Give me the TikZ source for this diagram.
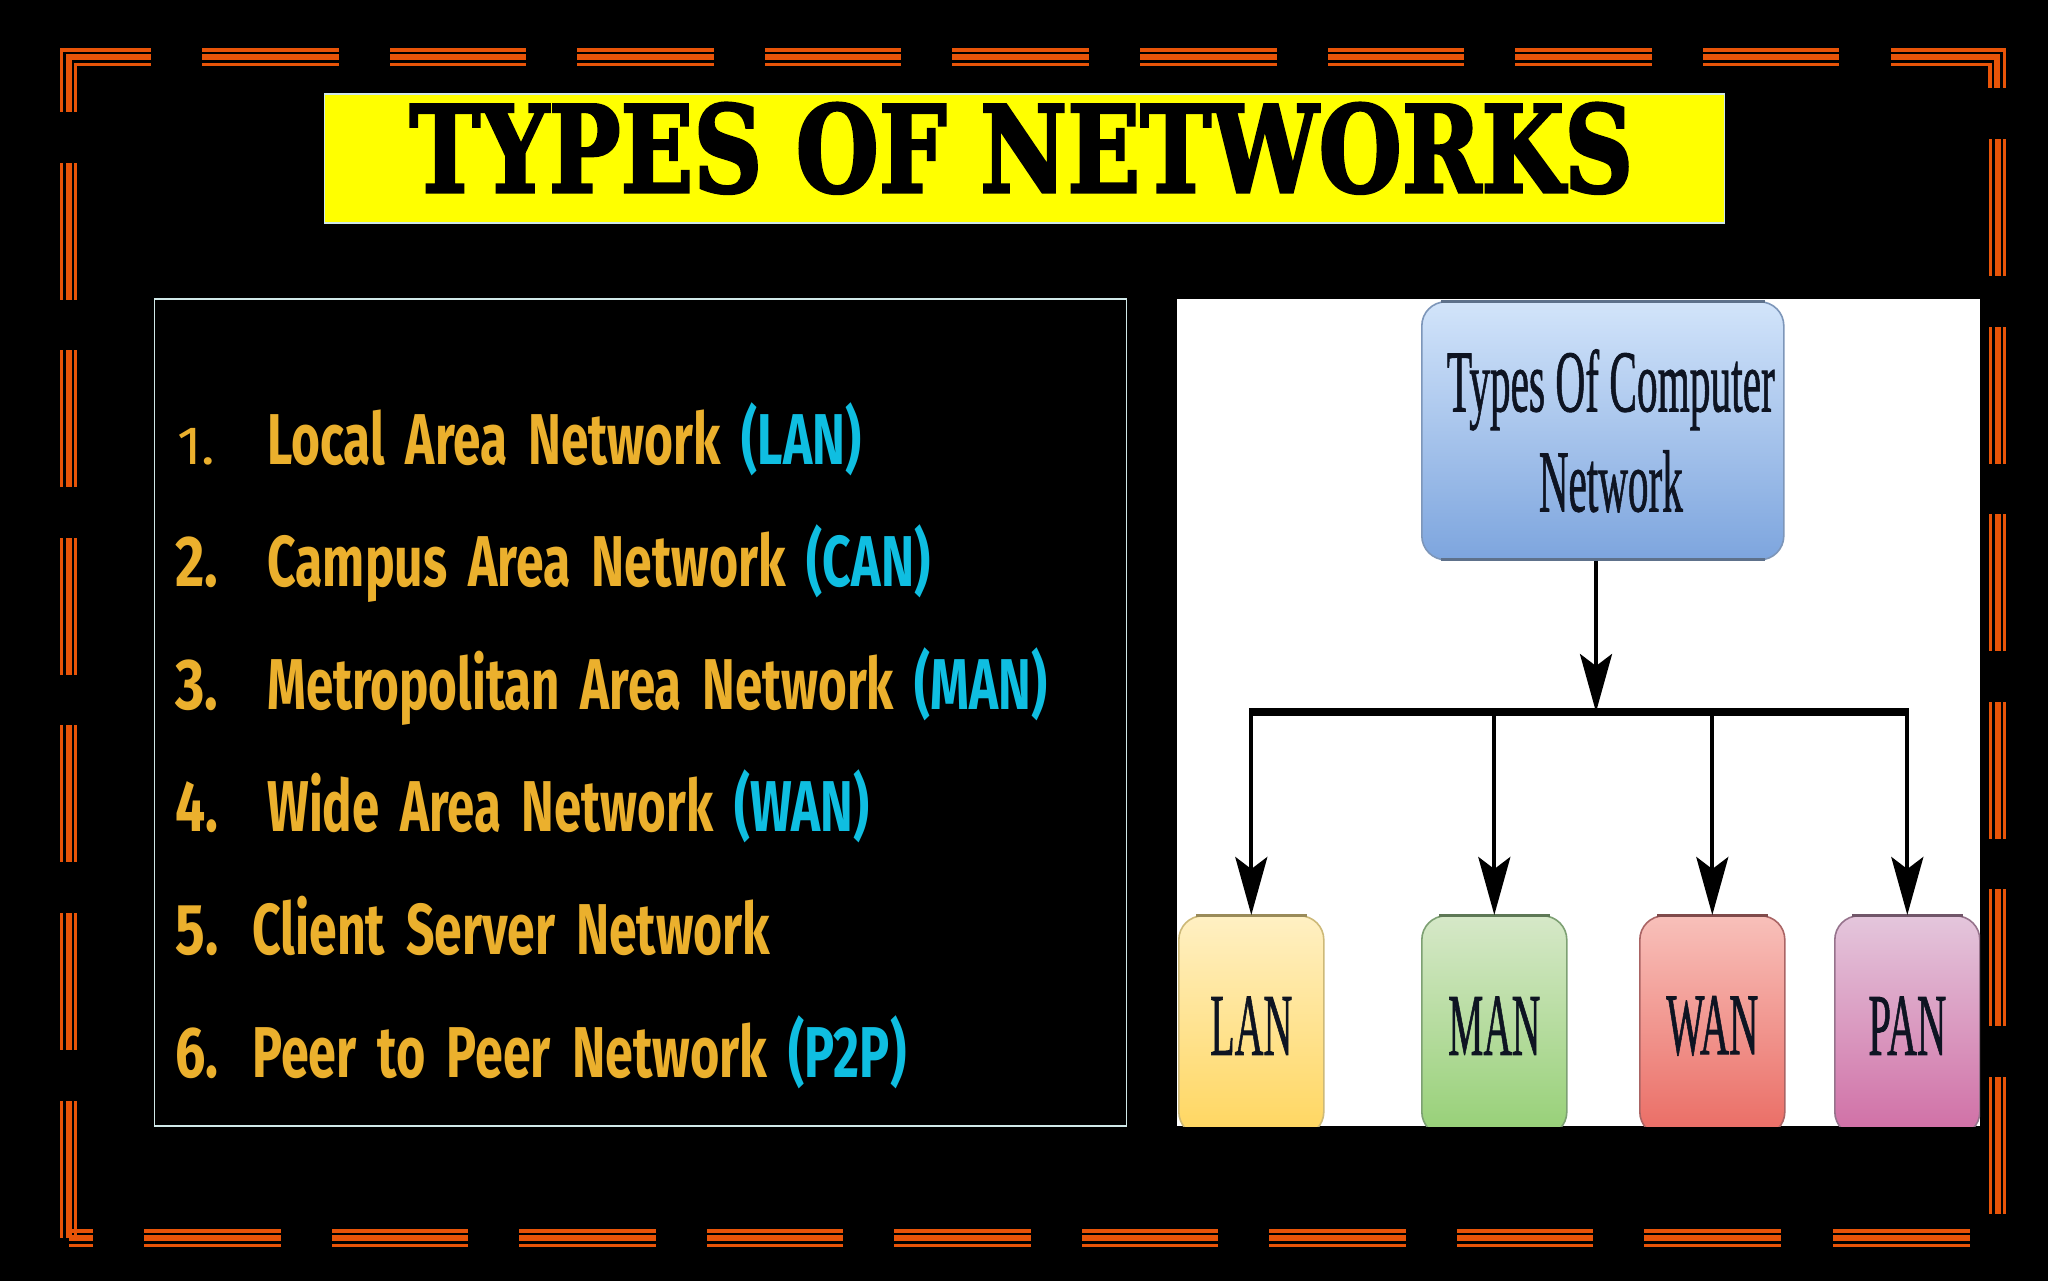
\documentclass[tikz,border=0pt]{standalone}
\usepackage{fontspec}
\usepackage{graphicx}
\usetikzlibrary{arrows.meta,shadings}
\setmainfont{Liberation Serif}
\newfontfamily\serfont[FakeBold=1.2]{Liberation Serif}
\newfontfamily\listfont{Fira Sans}
\newfontfamily\numfont{Fira Sans}
\newfontfamily\titlefont[BoldFeatures={FakeBold=2.5}]{DejaVu Serif}
\definecolor{bord}{RGB}{232,84,8}
\definecolor{gold}{RGB}{235,176,45}
\definecolor{cyanT}{RGB}{15,190,225}
\definecolor{frameC}{RGB}{208,232,232}
\definecolor{hdr}{RGB}{14,20,34}
\definecolor{yel}{RGB}{255,255,0}
\definecolor{netD}{RGB}{125,150,185}\definecolor{netT}{RGB}{210,228,250}\definecolor{netB}{RGB}{125,165,222}
\definecolor{lanD}{RGB}{205,185,120}\definecolor{lanT}{RGB}{255,240,195}\definecolor{lanB}{RGB}{255,214,95}
\definecolor{manD}{RGB}{125,160,115}\definecolor{manT}{RGB}{214,232,200}\definecolor{manB}{RGB}{150,208,118}
\definecolor{wanD}{RGB}{170,100,100}\definecolor{wanT}{RGB}{248,192,186}\definecolor{wanB}{RGB}{234,108,100}
\definecolor{panD}{RGB}{150,115,140}\definecolor{panT}{RGB}{228,198,220}\definecolor{panB}{RGB}{208,110,165}
\tikzset{
  thinS/.style={bord,line width=1.6pt},
  midS/.style={bord,line width=3pt},
  listline/.style={anchor=base west,inner sep=0pt,text=gold},
  flow/.style={line width=2pt,black,-{Stealth[length=29pt,width=16pt,inset=6pt]}},
  netbox/.style={rounded corners=12pt,draw=#1D,top color=#1T,bottom color=#1B,line width=0.8pt,inner sep=0pt,align=center,text=hdr},
  leafbox/.style={netbox=#1,minimum width=72.5pt,minimum height=110pt,anchor=north west},
  topedge/.style={line width=1.4pt,draw=#1D!75!black},
}
\newcommand{\hrow}[3]{%
  \fill[bord] (#1,#3+0.3) rectangle (#2,#3+3.7);
  \fill[bord] (#1,#3+6.3) rectangle (#2,#3+12);
  \fill[bord] (#1,#3+14.7) rectangle (#2,#3+17.7);
}
\newcommand{\vrow}[3]{%
  \fill[bord] (#3,#1) rectangle (#3+3,#2);
  \fill[bord] (#3+6,#1) rectangle (#3+12,#2);
  \fill[bord] (#3+14.3,#1) rectangle (#3+17,#2);
}
\newcommand{\lbl}[2]{\resizebox{\dimexpr #1pt/2\relax}{\height}{\listfont\bfseries\fontsize{36}{36}\selectfont\spaceskip=0.42em\relax #2}}
\newcommand{\ser}[2]{\resizebox{\dimexpr #1pt/2\relax}{\height}{\serfont\fontsize{44}{44}\selectfont #2}}
\begin{document}
\begin{tikzpicture}[x=0.5pt,y=-0.5pt]
\useasboundingbox (0,0) rectangle (2048,1280);
\fill[black] (-10,-10) rectangle (2058,1290);
% ---- border
\foreach \s in {202,389.6,577.2,764.8,952.4,1140,1327.6,1515.2,1702.8}{
  \pgfmathsetmacro\e{\s+136.5}
  \hrow{\s}{\e}{48}
}
\foreach \s in {144,331.5,519,706.5,894,1081.5,1269,1456.5,1644,1833}{
  \pgfmathsetmacro\e{\s+136.5}
  \hrow{\s}{\e}{1229}
}
\hrow{68.5}{92.5}{1229}
\foreach \s in {162.5,350,537.5,725,913,1101}{
  \pgfmathsetmacro\e{\s+137}
  \vrow{\s}{\e}{60}
}
\foreach \s in {139,326.5,514,701.5,889,1077}{
  \pgfmathsetmacro\e{\s+137}
  \vrow{\s}{\e}{1988.7}
}
% top-left corner
\draw[thinS] (61.5,111.5) -- (61.5,50) -- (150.5,50);
\draw[midS]  (69,111.5) -- (69,57.2) -- (150.5,57.2);
\draw[thinS] (75.6,111.5) -- (75.6,64.2) -- (150.5,64.2);
% top-right corner
\draw[thinS] (1891.3,50) -- (2004.2,50) -- (2004.2,87.7);
\draw[midS]  (1891.3,57.2) -- (1997,57.2) -- (1997,87.7);
\draw[thinS] (1891.3,64.2) -- (1990,64.2) -- (1990,87.7);
% ---- title
\node[draw=frameC,line width=0.8pt,fill=yel,inner sep=0pt,minimum width=700pt,minimum height=64.5pt,anchor=north west] (titlebox) at (323.5,93) {};
\node[anchor=base west,inner sep=0pt] (title) at (409,192)
  {\resizebox{612pt}{\height}{\titlefont\bfseries\fontsize{60}{60}\selectfont TYPES OF NETWORKS}};
% ---- list panel
\node[draw=frameC,line width=0.8pt,inner sep=0pt,minimum width=486pt,minimum height=413.5pt,anchor=north west] (panel) at (153.5,298) {};
\node[listline] (n1) at (177,464) {\resizebox{19pt}{\height}{\numfont\fontsize{27}{27}\selectfont 1.}};
\node[listline] (l1) at (267,464) {\lbl{594}{Local Area Network \textcolor{cyanT}{(LAN)}}};
\node[listline] (n2) at (175,586) {\lbl{43}{2.}};
\node[listline] (l2) at (267,586) {\lbl{663}{Campus Area Network \textcolor{cyanT}{(CAN)}}};
\node[listline] (n3) at (175,709) {\lbl{43}{3.}};
\node[listline] (l3) at (267,709) {\lbl{780}{Metropolitan Area Network \textcolor{cyanT}{(MAN)}}};
\node[listline] (n4) at (175,831) {\lbl{43}{4.}};
\node[listline] (l4) at (267,831) {\lbl{602}{Wide Area Network \textcolor{cyanT}{(WAN)}}};
\node[listline] (n5) at (175,954) {\lbl{43}{5.}};
\node[listline] (l5) at (252,954) {\lbl{518}{Client Server Network}};
\node[listline] (n6) at (175,1077) {\lbl{43}{6.}};
\node[listline] (l6) at (252,1077) {\lbl{654}{Peer to Peer Network \textcolor{cyanT}{(P2P)}}};
% ---- picture panel
\fill[white] (1177,299) rectangle (1980,1126);
\begin{scope}
\clip (1177,299) rectangle (1980,1126);
\node[netbox=net,minimum width=181pt,minimum height=129pt,anchor=north west] (net) at (1421,301)
  {\hspace{8pt}\ser{328}{Types Of Computer}\\[9pt]
   \hspace{8pt}\ser{144}{Network}};
\node[leafbox=lan] (lan) at (1178,915) {\ser{82}{LAN}};
\node[leafbox=man] (man) at (1421,915) {\ser{92}{MAN}};
\node[leafbox=wan] (wan) at (1639,915) {\ser{92}{WAN}};
\node[leafbox=pan] (pan) at (1834,915) {\ser{78}{PAN}};
\draw[topedge=net] ([xshift=10pt,yshift=-0.4pt]net.north west) -- ([xshift=-10pt,yshift=-0.4pt]net.north east);
\draw[topedge=net] ([xshift=10pt,yshift=0.4pt]net.south west) -- ([xshift=-10pt,yshift=0.4pt]net.south east);
\draw[topedge=lan] ([xshift=9pt,yshift=-0.4pt]lan.north west) -- ([xshift=-9pt,yshift=-0.4pt]lan.north east);
\draw[topedge=man] ([xshift=9pt,yshift=-0.4pt]man.north west) -- ([xshift=-9pt,yshift=-0.4pt]man.north east);
\draw[topedge=wan] ([xshift=9pt,yshift=-0.4pt]wan.north west) -- ([xshift=-9pt,yshift=-0.4pt]wan.north east);
\draw[topedge=pan] ([xshift=9pt,yshift=-0.4pt]pan.north west) -- ([xshift=-9pt,yshift=-0.4pt]pan.north east);
\end{scope}
\coordinate (busL) at (lan.north |- 0,712);
\coordinate (busR) at (pan.north |- 0,712);
\coordinate (busM) at (1596,712);
\draw[black,line width=4pt] ([xshift=-1pt]busL) -- ([xshift=1pt]busR);
\draw[flow] (net.south -| busM) -- (busM);
\draw[flow] (busL) -- (lan.north);
\draw[flow] (man.north |- busL) -- (man.north);
\draw[flow] (wan.north |- busL) -- (wan.north);
\draw[flow] (busR) -- (pan.north);
\end{tikzpicture}
\end{document}
